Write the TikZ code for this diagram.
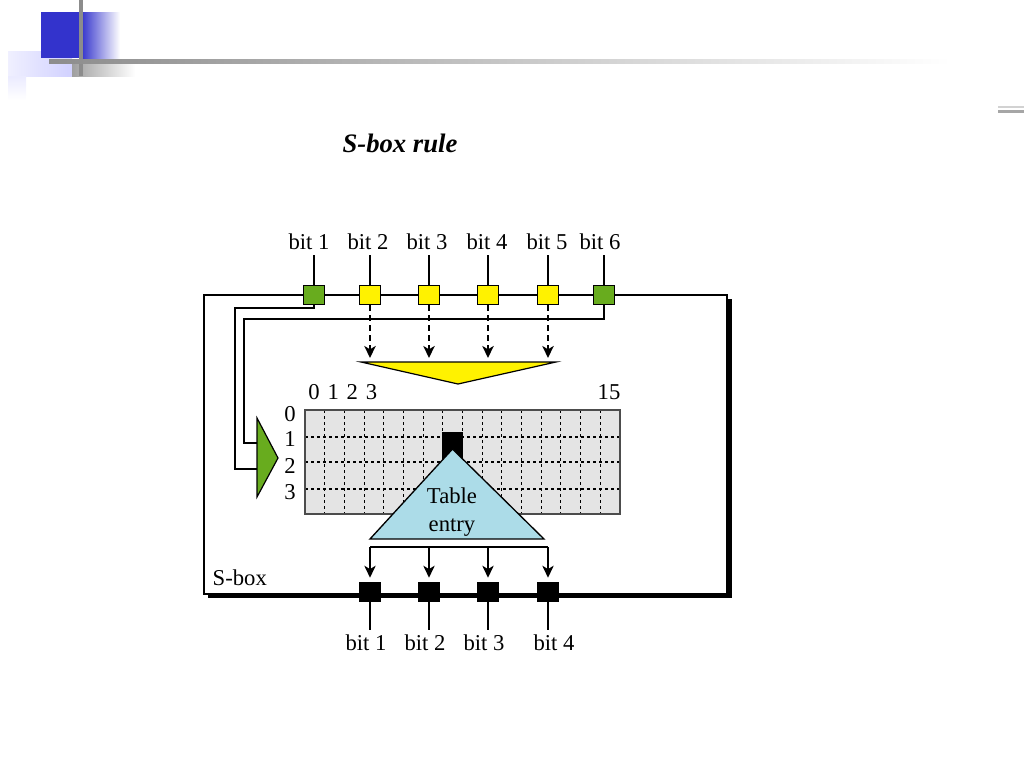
\documentclass[tikz,border=0pt]{standalone}
\usepackage{fontspec}
\setmainfont{Liberation Serif}
\usepackage{tikz}
\usetikzlibrary{arrows.meta}

\definecolor{sgreen}{RGB}{104,172,30}
\definecolor{sblue}{RGB}{172,220,232}
\definecolor{hdrblue}{RGB}{51,51,204}
\definecolor{cellgray}{RGB}{228,228,228}

\begin{document}
\begin{tikzpicture}[x=0.75pt,y=-0.75pt,
	every node/.style={font=\fontsize{17}{21}\selectfont},
	inbit/.style={draw,line width=1pt,minimum width=15.5pt,minimum height=14pt,inner sep=0pt},
	outbit/.style={fill=black,minimum width=16.5pt,minimum height=15pt,inner sep=0pt},
	wire/.style={line width=1.15pt},
	tip/.style={-{Stealth[length=9pt,width=8.5pt,inset=2.5pt]}},
	cellline/.style={line width=0.8pt,dash pattern=on 2.5pt off 2pt}]
				\useasboundingbox (0,0) rectangle (1024,768);
				
				% header
				\shade[left color=blue!6,right color=blue!18] (8,51) rectangle (72,76);
				\shade[top color=blue!8,bottom color=white] (8,76) rectangle (26,100);
				\fill[hdrblue] (41,12) rectangle (81,58);
				\shade[left color=hdrblue,right color=white] (81,12) rectangle (120,58);
				\shade[left color=gray!75,right color=white] (72,63) rectangle (135,76);
				\fill[gray!90] (79,0) rectangle (83,76);
				\shade[left color=gray!90,middle color=gray!30,right color=white] (49,59) rectangle (950,63);
				\fill[gray!35] (998,106) rectangle (1024,108);
				\fill[gray!70] (998,109.5) rectangle (1024,113);
				\node[font=\fontsize{20}{24}\selectfont\bfseries\itshape] (title) at (400,143) {S-box rule};
				
				% frame
				\draw[line width=2.4pt] (208,596.5) -- (730,596.5) -- (730,299);
				\draw[wire] (204,295) rectangle (727,594);
				\node[anchor=west] (sbox) at (208,578) {S-box};
				
				% input bits
				\foreach \i/\x/\c in {1/314/sgreen,2/370/yellow,3/429/yellow,4/488/yellow,5/548/yellow,6/604/sgreen}
					\node[inbit,fill=\c] (in\i) at (\x,295) {};
				\foreach \i/\x in {1/309,2/368,3/427,4/487,5/547,6/600}{
					\node (lin\i) at (\x,242) {bit \i};
					\draw[wire] (in\i.north) -- (in\i.north |- lin\i.south);
				}
				
				% middle bits to column
				\coordinate (ytop) at (458,362);
				\foreach \i in {2,...,5}
					\draw[line width=1.6pt,dash pattern=on 4.5pt off 3pt,tip,shorten >=3pt] (in\i.south) -- (in\i.south |- ytop);
				\draw[fill=yellow,line width=0.9pt] (361,362) -- (556,362) -- (458,384) -- cycle;
				
				% outer bits to row
				\coordinate (g1) at (257,443);
				\coordinate (g2) at (257,469);
				\draw[wire] (in1.south) |- (235,308) |- (g2);
				\draw[wire] (in6.south) |- (244,319) |- (g1);
				\draw[fill=sgreen,line width=0.9pt] (257,418) -- (278,458) -- (257,497) -- cycle;
				
				% table
				\fill[cellgray] (305,410) rectangle (620,514);
				\foreach \k in {1,...,15}
					\draw[cellline] ({305+19.6875*\k},410) -- ++(0,104);
				\foreach \y in {437,462,489}
					\draw[cellline] (305,\y) -- (620,\y);
				\draw[line width=0.9pt,gray!60!black] (305,410) rectangle (620,514);
				\foreach \k in {0,...,3}
					\node (col\k) at ({314+19.2*\k},392) {\k};
				\node (col15) at (609,392) {15};
				\foreach \r/\y in {0/414,1/439,2/466,3/492}
					\node (row\r) at (290,\y) {\r};
				
				% table entry
				\node[fill=black,minimum width=16pt,minimum height=20.5pt,inner sep=0pt] (hit) at (452.5,446) {};
				\draw[fill=sblue,line width=1pt] (452.5,449) -- (544,539) -- (370,539) -- cycle;
				\node[align=center] (entry) at (452,512) {Table\\entry};
				
				% output bits
				\foreach \i/\x in {1/370,2/429,3/488,4/548}
					\node[outbit] (out\i) at (\x,592) {};
				\coordinate (bus) at (0,547);
				\draw[line width=1.5pt] (out1 |- bus) -- (out4 |- bus);
				\foreach \i/\x in {1/366,2/425,3/484,4/554}{
					\draw[wire,tip,shorten >=3pt] (out\i |- bus) -- (out\i.north);
					\node (lout\i) at (\x,643) {bit \i};
					\draw[wire] (out\i.south) -- (out\i.south |- lout\i.north);
				}
			\end{tikzpicture}
\end{document}
